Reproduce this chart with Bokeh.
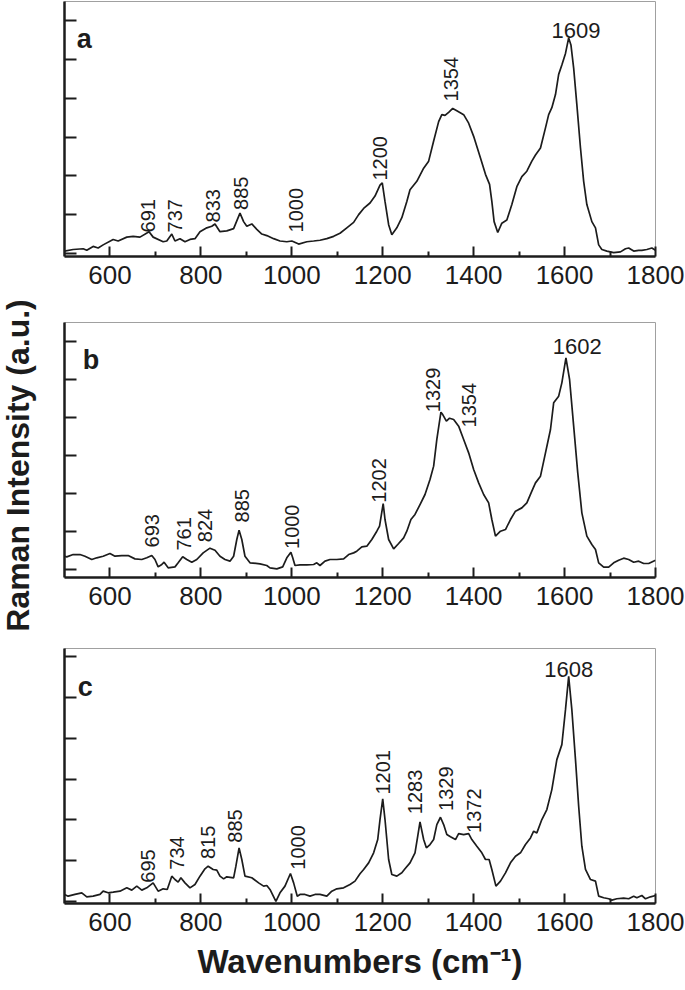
import numpy as np
from bokeh.plotting import figure
from bokeh.models import Range1d, FixedTicker, Label, ColumnDataSource, CustomJSTickFormatter
from bokeh.layouts import row, column
from bokeh.embed import file_html
from bokeh.resources import INLINE
from bokeh.core.properties import value

# ---------------- data ----------------
a_wn = [500, 519, 541, 549, 563, 574, 585, 607, 618, 637, 651, 666, 686, 695, 717, 725, 736, 743,
        754, 765, 776, 787, 798, 813, 824, 831, 842, 857, 872, 879, 886, 894, 901, 912, 923, 934,
        945, 960, 974, 989, 1000, 1004, 1015, 1033, 1048, 1062, 1077, 1092, 1106, 1121, 1136, 1147,
        1158, 1172, 1183, 1194, 1199, 1205, 1213, 1220, 1231, 1242, 1253, 1260, 1275, 1290, 1301,
        1312, 1323, 1330, 1337, 1345, 1354, 1363, 1378, 1389, 1400, 1415, 1426, 1435, 1440, 1445,
        1453, 1462, 1473, 1484, 1495, 1506, 1517, 1528, 1536, 1547, 1558, 1565, 1572, 1580, 1587,
        1594, 1602, 1609, 1614, 1620, 1627, 1635, 1642, 1649, 1660, 1668, 1675, 1682, 1693, 1708,
        1723, 1734, 1741, 1752, 1763, 1770, 1781, 1792, 1800]
a_int = [0.03, 0.05, 0.06, 0.04, 0.09, 0.07, 0.11, 0.18, 0.16, 0.21, 0.22, 0.21, 0.28, 0.21, 0.15,
         0.16, 0.25, 0.16, 0.19, 0.15, 0.18, 0.19, 0.28, 0.33, 0.35, 0.38, 0.28, 0.29, 0.32, 0.42,
         0.52, 0.41, 0.35, 0.38, 0.31, 0.25, 0.23, 0.19, 0.16, 0.15, 0.16, 0.15, 0.12, 0.15, 0.16,
         0.17, 0.19, 0.22, 0.26, 0.33, 0.40, 0.50, 0.58, 0.65, 0.74, 0.88, 0.91, 0.67, 0.37, 0.24,
         0.33, 0.46, 0.67, 0.82, 0.93, 1.10, 1.19, 1.45, 1.70, 1.79, 1.78, 1.82, 1.87, 1.84, 1.79,
         1.68, 1.51, 1.23, 1.02, 0.89, 0.67, 0.41, 0.27, 0.39, 0.43, 0.63, 0.86, 0.99, 1.06, 1.19,
         1.27, 1.36, 1.62, 1.79, 1.88, 2.05, 2.31, 2.43, 2.58, 2.78, 2.69, 2.39, 1.92, 1.36, 0.93,
         0.63, 0.41, 0.33, 0.11, 0.05, 0.03, 0.01, 0.02, 0.06, 0.07, 0.03, 0.04, 0.04, 0.05, 0.07,
         0.04]

b_wn = [500, 505, 519, 534, 545, 560, 571, 585, 600, 611, 626, 640, 655, 670, 681, 692, 699, 706,
        714, 719, 728, 743, 750, 760, 769, 780, 791, 805, 820, 831, 842, 853, 864, 872, 879, 884,
        890, 897, 908, 930, 945, 952, 967, 980, 989, 998, 1002, 1007, 1018, 1033, 1048, 1055, 1062,
        1073, 1084, 1099, 1114, 1125, 1136, 1143, 1154, 1165, 1176, 1187, 1193, 1201, 1205, 1213,
        1224, 1235, 1246, 1253, 1262, 1271, 1282, 1293, 1304, 1312, 1319, 1328, 1332, 1340, 1347,
        1356, 1367, 1378, 1389, 1400, 1411, 1422, 1433, 1440, 1448, 1459, 1470, 1481, 1492, 1506,
        1517, 1528, 1536, 1547, 1558, 1569, 1576, 1587, 1594, 1603, 1611, 1620, 1629, 1638, 1649,
        1660, 1668, 1675, 1686, 1697, 1708, 1719, 1730, 1741, 1752, 1763, 1774, 1785, 1800]
b_int = [0.175, 0.167, 0.197, 0.197, 0.175, 0.132, 0.154, 0.175, 0.211, 0.175, 0.184, 0.184, 0.14,
         0.132, 0.154, 0.184, 0.132, 0.035, 0.066, 0.096, 0.022, 0.035, 0.088, 0.167, 0.132, 0.096,
         0.132, 0.219, 0.281, 0.254, 0.175, 0.132, 0.110, 0.175, 0.395, 0.518, 0.395, 0.175, 0.088,
         0.075, 0.053, 0.022, 0.009, 0.035, 0.154, 0.228, 0.154, 0.053, 0.061, 0.061, 0.066, 0.088,
         0.053, 0.110, 0.132, 0.132, 0.140, 0.197, 0.219, 0.241, 0.298, 0.307, 0.395, 0.504, 0.570,
         0.868, 0.658, 0.395, 0.272, 0.342, 0.417, 0.504, 0.658, 0.724, 0.855, 0.987, 1.184, 1.360,
         1.711, 2.070, 2.039, 1.952, 1.991, 1.974, 1.886, 1.711, 1.535, 1.316, 1.140, 0.987, 0.877,
         0.658, 0.439, 0.504, 0.526, 0.658, 0.768, 0.811, 0.877, 1.031, 1.140, 1.228, 1.535, 1.842,
         2.193, 2.281, 2.456, 2.785, 2.500, 1.886, 1.272, 0.746, 0.439, 0.329, 0.263, 0.088, 0.031,
         0.031, 0.088, 0.123, 0.149, 0.132, 0.096, 0.110, 0.079, 0.079, 0.123]

c_wn = [500, 508, 523, 538, 549, 563, 578, 585, 596, 607, 622, 637, 648, 659, 670, 681, 695, 706,
        717, 726, 736, 743, 750, 756, 765, 776, 787, 798, 809, 816, 827, 835, 842, 850, 857, 872,
        877, 884, 890, 897, 912, 927, 938, 945, 952, 965, 974, 985, 997, 1004, 1012, 1018, 1029,
        1040, 1051, 1062, 1077, 1088, 1099, 1114, 1128, 1139, 1150, 1158, 1169, 1180, 1189, 1194,
        1200, 1205, 1213, 1220, 1231, 1242, 1249, 1260, 1271, 1277, 1282, 1290, 1296, 1304, 1312,
        1319, 1327, 1334, 1341, 1349, 1360, 1367, 1378, 1389, 1396, 1407, 1418, 1426, 1434, 1440,
        1449, 1459, 1470, 1481, 1492, 1503, 1514, 1525, 1532, 1539, 1550, 1561, 1572, 1583, 1594,
        1602, 1609, 1616, 1624, 1631, 1638, 1646, 1657, 1668, 1675, 1686, 1697, 1704, 1715, 1730,
        1741, 1752, 1759, 1770, 1778, 1789, 1800]
c_int = [0.086, 0.065, 0.086, 0.106, 0.057, 0.065, 0.086, 0.126, 0.106, 0.114, 0.126, 0.167, 0.139,
         0.188, 0.139, 0.167, 0.228, 0.126, 0.155, 0.147, 0.310, 0.269, 0.237, 0.290, 0.228, 0.167,
         0.208, 0.310, 0.400, 0.432, 0.392, 0.383, 0.310, 0.277, 0.302, 0.290, 0.432, 0.657, 0.514,
         0.310, 0.290, 0.228, 0.188, 0.196, 0.147, 0.0, 0.106, 0.188, 0.343, 0.228, 0.065, 0.086,
         0.086, 0.065, 0.086, 0.086, 0.065, 0.126, 0.155, 0.167, 0.208, 0.249, 0.340, 0.392, 0.473,
         0.596, 0.759, 1.004, 1.257, 1.004, 0.514, 0.330, 0.310, 0.351, 0.400, 0.473, 0.596, 0.800,
         0.975, 0.759, 0.657, 0.698, 0.759, 0.942, 1.032, 0.942, 0.820, 0.792, 0.759, 0.832, 0.820,
         0.832, 0.759, 0.677, 0.596, 0.514, 0.514, 0.392, 0.188, 0.249, 0.351, 0.473, 0.555, 0.596,
         0.698, 0.779, 0.861, 0.840, 1.004, 1.126, 1.371, 1.738, 1.922, 2.350, 2.758, 2.350, 1.738,
         1.167, 0.677, 0.392, 0.269, 0.249, 0.065, 0.045, 0.033, 0.016, 0.033, 0.041, 0.033, 0.065,
         0.045, 0.073, 0.033, 0.057, 0.073]

# peak annotations: text, wavenumber where it sits, intensity where it starts
a_lab_text = ["691", "737", "833", "885", "1000", "1200", "1354"]
a_lab_x = [683, 743, 827, 888, 1009, 1195, 1350]
a_lab_y = [0.27, 0.27, 0.40, 0.56, 0.27, 0.94, 1.96]
a_top = ("1609", 1625, 2.87)

b_lab_text = ["693", "761", "824", "885", "1000", "1202", "1329", "1354"]
b_lab_x = [692, 763, 809, 890, 1000, 1192, 1311, 1389]
b_lab_y = [0.29, 0.25, 0.36, 0.62, 0.27, 0.88, 2.07, 1.87]
b_top = ("1602", 1628, 2.94)

c_lab_text = ["695", "734", "815", "885", "1000", "1201", "1283", "1329", "1372"]
c_lab_x = [684, 747, 816, 876, 1014, 1200, 1271, 1339, 1401]
c_lab_y = [0.23, 0.39, 0.52, 0.72, 0.39, 1.31, 1.07, 1.11, 0.84]
c_top = ("1608", 1609, 2.84)

x_major = [600, 800, 1000, 1200, 1400, 1600, 1800]
x_minor = [700, 900, 1100, 1300, 1500, 1700]
y_major = [0, 1, 2, 3]
y_minor = [0.5, 1.5, 2.5]

INK = "#1c1c1c"
FONT = "Liberation Sans"
PW = 636  # width of each panel figure


def panel(wn, inten, yr, labs, lx, ly, top, letter, letter_pos, height, mb):
    p = figure(width=PW, height=height, x_range=Range1d(500, 1800), y_range=Range1d(*yr),
               output_backend="svg", toolbar_location=None,
               min_border_left=16, min_border_right=PW - 16 - 591, min_border_top=1,
               min_border_bottom=mb)
    p.xgrid.visible = False
    p.ygrid.visible = False
    p.outline_line_color = "#a0a0a0"
    p.outline_line_width = 1
    p.background_fill_color = "white"
    p.border_fill_color = "white"

    xa = p.xaxis[0]
    xa.ticker = FixedTicker(ticks=x_major, minor_ticks=x_minor)
    xa.major_tick_in = 10
    xa.major_tick_out = 0
    xa.minor_tick_in = 5
    xa.minor_tick_out = 0
    xa.axis_line_width = 2.5
    xa.axis_line_color = INK
    xa.major_tick_line_width = 2
    xa.minor_tick_line_width = 2
    xa.major_tick_line_color = INK
    xa.minor_tick_line_color = INK
    xa.major_label_text_font = FONT
    xa.major_label_text_font_size = "26px"
    xa.major_label_text_color = INK
    xa.major_label_standoff = 9

    ya = p.yaxis[0]
    ya.ticker = FixedTicker(ticks=y_major, minor_ticks=y_minor)
    ya.major_tick_in = 12
    ya.major_tick_out = 0
    ya.minor_tick_in = 12
    ya.minor_tick_out = 0
    ya.axis_line_width = 2.5
    ya.axis_line_color = INK
    ya.major_tick_line_width = 2
    ya.minor_tick_line_width = 2
    ya.major_tick_line_color = INK
    ya.minor_tick_line_color = INK
    ya.formatter = CustomJSTickFormatter(code="return ''")
    ya.major_label_text_font_size = "0px"
    ya.major_label_standoff = 0

    p.line(wn, inten, line_color=INK, line_width=1.7)

    src = ColumnDataSource(dict(x=lx, y=ly, t=labs))
    p.text(x="x", y="y", text="t", source=src, angle=np.pi / 2,
           text_align="left", text_baseline="middle",
           text_font=value(FONT), text_font_size="20px", text_color=INK)
    p.text(x=[top[1]], y=[top[2]], text=[top[0]], text_align="center",
           text_baseline="alphabetic", text_font=value(FONT), text_font_size="22px",
           text_color=INK)

    p.add_layout(Label(x=letter_pos[0], y=letter_pos[1], text=letter, text_font=FONT,
                       text_font_style="bold", text_font_size="27px", text_color=INK,
                       text_baseline="alphabetic"))
    return p


pa = panel(a_wn, a_int, (-0.04, 3.25), a_lab_text, a_lab_x, a_lab_y, a_top, "a", (527, 2.77), 321, 65)
pb = panel(b_wn, b_int, (-0.105, 3.25), b_lab_text, b_lab_x, b_lab_y, b_top, "b", (540, 2.76), 326, 70)
pc = panel(c_wn, c_int, (-0.025, 3.10), c_lab_text, c_lab_x, c_lab_y, c_top, "c", (529, 2.63), 343, 87)

pc.xaxis.axis_label = "Wavenumbers (cm\u207b\u00b9)"
pc.xaxis.axis_label_text_font = FONT
pc.xaxis.axis_label_text_font_style = "bold"
pc.xaxis.axis_label_text_font_size = "33px"
pc.xaxis.axis_label_text_color = INK
pc.xaxis.axis_label_standoff = 9

# y-axis title in its own strip left of the panels
yl = figure(width=48, height=988, x_range=Range1d(0, 48), y_range=Range1d(0, 988),
            output_backend="svg", toolbar_location=None, min_border=0)
yl.axis.visible = False
yl.xgrid.visible = False
yl.ygrid.visible = False
yl.outline_line_color = None
yl.background_fill_color = "white"
yl.border_fill_color = "white"
yl.add_layout(Label(x=17, y=523, text="Raman Intensity (a.u.)", angle=np.pi / 2,
                    text_font=FONT, text_font_style="bold", text_font_size="32px",
                    text_color=INK, text_align="center", text_baseline="middle"))

layout = row(yl, column(pa, pb, pc))
open("out.html", "w").write(file_html(layout, INLINE))
